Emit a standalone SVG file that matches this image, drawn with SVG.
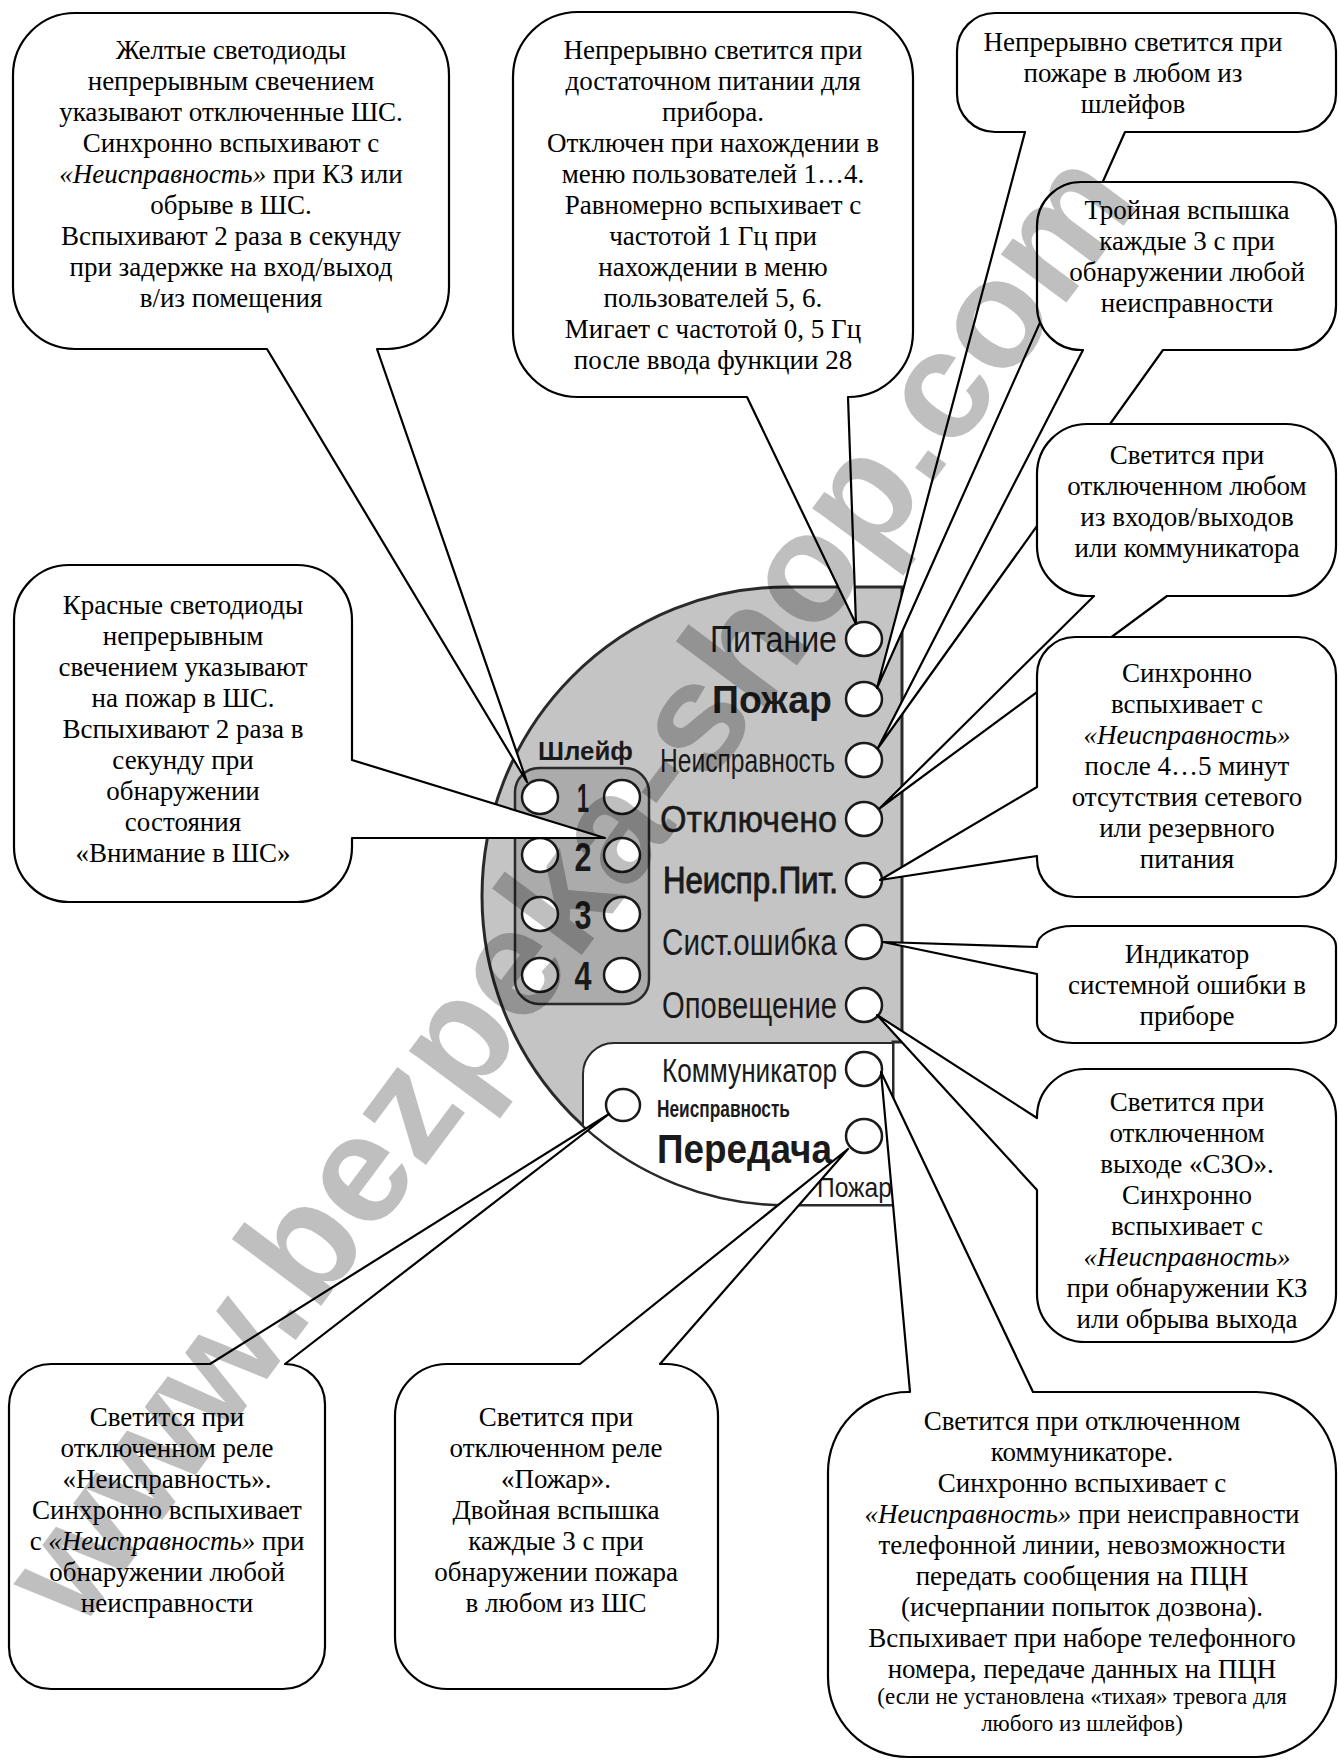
<svg xmlns="http://www.w3.org/2000/svg" width="1338" height="1760" viewBox="0 0 1338 1760">
<style>
.b{fill:#fff;stroke:#000;stroke-width:2.2;stroke-linejoin:round}
.t{font-family:"Liberation Serif","Times New Roman",serif;font-size:27px;fill:#000;text-anchor:middle}
.s{font-size:23px}
.i{font-style:italic}
.lbl{font-family:"Liberation Sans",Arial,sans-serif;fill:#1a1a1a}
.bd{font-weight:bold}
.led{fill:#fff;stroke:#1a1a1a;stroke-width:2.5}
</style>
<rect width="1338" height="1760" fill="#fff"/>
<g id="device">
<path d="M902,587 V1042 H893 V1205 H787 A305,309 0 0 1 787,587 Z" fill="#c4c4c4" stroke="#2a2a2a" stroke-width="3"/>
<path d="M614,1043 H893 V1205 H787 A305,309 0 0 1 583,1126 V1074 A31,31 0 0 1 614,1043 Z" fill="#fff" stroke="#2a2a2a" stroke-width="2"/>
<rect x="515" y="768" width="134" height="236" rx="24" fill="#ababab" stroke="#2a2a2a" stroke-width="2.5"/>
<text class="lbl bd" x="538" y="760" font-size="25" textLength="95" lengthAdjust="spacingAndGlyphs">Шлейф</text>
<text class="lbl bd" x="583" y="812" font-size="40" text-anchor="middle" textLength="12" lengthAdjust="spacingAndGlyphs">1</text>
<text class="lbl bd" x="583" y="871" font-size="40" text-anchor="middle" textLength="17" lengthAdjust="spacingAndGlyphs">2</text>
<text class="lbl bd" x="583" y="929" font-size="40" text-anchor="middle" textLength="17" lengthAdjust="spacingAndGlyphs">3</text>
<text class="lbl bd" x="583" y="990" font-size="40" text-anchor="middle" textLength="17" lengthAdjust="spacingAndGlyphs">4</text>
<ellipse class="led" cx="540" cy="797" rx="18" ry="17"/>
<ellipse class="led" cx="622" cy="797" rx="18" ry="17"/>
<ellipse class="led" cx="540" cy="855" rx="18" ry="17"/>
<ellipse class="led" cx="622" cy="855" rx="18" ry="17"/>
<ellipse class="led" cx="540" cy="914" rx="18" ry="17"/>
<ellipse class="led" cx="622" cy="914" rx="18" ry="17"/>
<ellipse class="led" cx="540" cy="975" rx="18" ry="17"/>
<ellipse class="led" cx="622" cy="975" rx="18" ry="17"/>
<text class="lbl" x="710" y="652" font-size="37" textLength="127" lengthAdjust="spacingAndGlyphs">Питание</text>
<text class="lbl bd" x="712" y="713" font-size="39" textLength="120" lengthAdjust="spacingAndGlyphs">Пожар</text>
<text class="lbl" x="660" y="772" font-size="34" textLength="175" lengthAdjust="spacingAndGlyphs">Неисправность</text>
<text class="lbl" x="660" y="832" font-size="37" textLength="177" lengthAdjust="spacingAndGlyphs" stroke="#1a1a1a" stroke-width="0.5">Отключено</text>
<text class="lbl" x="663" y="893" font-size="37" textLength="175" lengthAdjust="spacingAndGlyphs" stroke="#1a1a1a" stroke-width="1">Неиспр.Пит.</text>
<text class="lbl" x="662" y="955" font-size="36" textLength="175" lengthAdjust="spacingAndGlyphs">Сист.ошибка</text>
<text class="lbl" x="662" y="1018" font-size="36" textLength="175" lengthAdjust="spacingAndGlyphs">Оповещение</text>
<text class="lbl" x="662" y="1082" font-size="34" textLength="175" lengthAdjust="spacingAndGlyphs">Коммуникатор</text>
<text class="lbl bd" x="657" y="1117" font-size="23" textLength="133" lengthAdjust="spacingAndGlyphs">Неисправность</text>
<text class="lbl bd" x="657" y="1163" font-size="41" textLength="175" lengthAdjust="spacingAndGlyphs">Передача</text>
<text class="lbl" x="817" y="1197" font-size="28" textLength="75" lengthAdjust="spacingAndGlyphs">Пожар</text>
<ellipse class="led" cx="864" cy="639" rx="18" ry="17"/>
<ellipse class="led" cx="864" cy="699" rx="18" ry="17"/>
<ellipse class="led" cx="864" cy="760" rx="18" ry="17"/>
<ellipse class="led" cx="864" cy="819" rx="18" ry="17"/>
<ellipse class="led" cx="864" cy="880" rx="18" ry="17"/>
<ellipse class="led" cx="864" cy="942" rx="18" ry="17"/>
<ellipse class="led" cx="864" cy="1005" rx="18" ry="17"/>
<ellipse class="led" cx="864" cy="1069" rx="18" ry="17"/>
<ellipse class="led" cx="864" cy="1136" rx="18" ry="17"/>
<ellipse class="led" cx="623" cy="1105" rx="17" ry="16"/>
</g>
<g id="callouts">
<g id="c-shs-yellow">
<path class="b" d="M75,13 H387 A62,62 0 0 1 449,75 V287 A62,62 0 0 1 387,349 H377 L527,782 L267,349 H75 A62,62 0 0 1 13,287 V75 A62,62 0 0 1 75,13 Z"/>
<text class="t"><tspan x="231" y="59">Желтые светодиоды</tspan><tspan x="231" y="90">непрерывным свечением</tspan><tspan x="231" y="121">указывают отключенные ШС.</tspan><tspan x="231" y="152">Синхронно вспыхивают с</tspan><tspan x="231" y="183"><tspan class="i">«Неисправность»</tspan> при КЗ или</tspan><tspan x="231" y="214">обрыве в ШС.</tspan><tspan x="231" y="245">Вспыхивают 2 раза в секунду</tspan><tspan x="231" y="276">при задержке на вход/выход</tspan><tspan x="231" y="307">в/из помещения</tspan></text>
</g>
<g id="c-pitanie">
<path class="b" d="M578,12 H848 A65,65 0 0 1 913,77 V332 A65,65 0 0 1 848,397 L856,624 L747,397 H578 A65,65 0 0 1 513,332 V77 A65,65 0 0 1 578,12 Z"/>
<text class="t"><tspan x="713" y="59">Непрерывно светится при</tspan><tspan x="713" y="90">достаточном питании для</tspan><tspan x="713" y="121">прибора.</tspan><tspan x="713" y="152">Отключен при нахождении в</tspan><tspan x="713" y="183">меню пользователей 1…4.</tspan><tspan x="713" y="214">Равномерно вспыхивает с</tspan><tspan x="713" y="245">частотой 1 Гц при</tspan><tspan x="713" y="276">нахождении в меню</tspan><tspan x="713" y="307">пользователей 5, 6.</tspan><tspan x="713" y="338">Мигает с частотой 0, 5 Гц</tspan><tspan x="713" y="369">после ввода функции 28</tspan></text>
</g>
<g id="c-pozhar">
<path class="b" d="M995,13 H1298 A38,38 0 0 1 1336,51 V94 A38,38 0 0 1 1298,132 H1125 L877,688 L1025,132 H995 A38,38 0 0 1 957,94 V51 A38,38 0 0 1 995,13 Z"/>
<text class="t"><tspan x="1133" y="51">Непрерывно светится при</tspan><tspan x="1133" y="82">пожаре в любом из</tspan><tspan x="1133" y="113">шлейфов</tspan></text>
</g>
<g id="c-neispr">
<path class="b" d="M1081,182 H1292 A44,44 0 0 1 1336,226 V306 A44,44 0 0 1 1292,350 H1163 L878,748 L1083,350 H1081 A44,44 0 0 1 1037,306 V226 A44,44 0 0 1 1081,182 Z"/>
<text class="t"><tspan x="1187" y="219">Тройная вспышка</tspan><tspan x="1187" y="250">каждые 3 с при</tspan><tspan x="1187" y="281">обнаружении любой</tspan><tspan x="1187" y="312">неисправности</tspan></text>
</g>
<g id="c-otkl">
<path class="b" d="M1087,424 H1286 A50,50 0 0 1 1336,474 V546 A50,50 0 0 1 1286,596 H1167 L880,808 L1094,596 H1087 A50,50 0 0 1 1037,546 V474 A50,50 0 0 1 1087,424 Z"/>
<text class="t"><tspan x="1187" y="464">Светится при</tspan><tspan x="1187" y="495">отключенном любом</tspan><tspan x="1187" y="526">из входов/выходов</tspan><tspan x="1187" y="557">или коммуникатора</tspan></text>
</g>
<g id="c-neispr-pit">
<path class="b" d="M1075,637 H1298 A38,38 0 0 1 1336,675 V859 A38,38 0 0 1 1298,897 H1075 A38,38 0 0 1 1037,859 V856 L880,880 L1037,787 V675 A38,38 0 0 1 1075,637 Z"/>
<text class="t"><tspan x="1187" y="682">Синхронно</tspan><tspan x="1187" y="713">вспыхивает с</tspan><tspan x="1187" y="744" class="i">«Неисправность»</tspan><tspan x="1187" y="775">после 4…5 минут</tspan><tspan x="1187" y="806">отсутствия сетевого</tspan><tspan x="1187" y="837">или резервного</tspan><tspan x="1187" y="868">питания</tspan></text>
</g>
<g id="c-sist">
<path class="b" d="M1073,926 H1300 A36,20 0 0 1 1336,946 V1023 A36,20 0 0 1 1300,1043 H1073 A36,20 0 0 1 1037,1023 V974 L883,942 L1037,947 V946 A36,20 0 0 1 1073,926 Z"/>
<text class="t"><tspan x="1187" y="963">Индикатор</tspan><tspan x="1187" y="994">системной ошибки в</tspan><tspan x="1187" y="1025">приборе</tspan></text>
</g>
<g id="c-opov">
<path class="b" d="M1085,1069 H1288 A48,48 0 0 1 1336,1117 V1294 A48,48 0 0 1 1288,1342 H1085 A48,48 0 0 1 1037,1294 V1190 L877,1015 L1037,1118 V1117 A48,48 0 0 1 1085,1069 Z"/>
<text class="t"><tspan x="1187" y="1111">Светится при</tspan><tspan x="1187" y="1142">отключенном</tspan><tspan x="1187" y="1173">выходе «СЗО».</tspan><tspan x="1187" y="1204">Синхронно</tspan><tspan x="1187" y="1235">вспыхивает с</tspan><tspan x="1187" y="1266" class="i">«Неисправность»</tspan><tspan x="1187" y="1297">при обнаружении КЗ</tspan><tspan x="1187" y="1328">или обрыва выхода</tspan></text>
</g>
<g id="c-shs-red">
<path class="b" d="M69,565 H297 A55,55 0 0 1 352,620 V760 L605,838 L352,838 V847 A55,55 0 0 1 297,902 H69 A55,55 0 0 1 14,847 V620 A55,55 0 0 1 69,565 Z"/>
<text class="t"><tspan x="183" y="614">Красные светодиоды</tspan><tspan x="183" y="645">непрерывным</tspan><tspan x="183" y="676">свечением указывают</tspan><tspan x="183" y="707">на пожар в ШС.</tspan><tspan x="183" y="738">Вспыхивают 2 раза в</tspan><tspan x="183" y="769">секунду при</tspan><tspan x="183" y="800">обнаружении</tspan><tspan x="183" y="831">состояния</tspan><tspan x="183" y="862">«Внимание в ШС»</tspan></text>
</g>
<g id="c-rele-neispr">
<path class="b" d="M51,1364 H210 L609,1114 L285,1364 A40,40 0 0 1 325,1404 V1647 A42,42 0 0 1 283,1689 H51 A42,42 0 0 1 9,1647 V1406 A42,42 0 0 1 51,1364 Z"/>
<text class="t"><tspan x="167" y="1426">Светится при</tspan><tspan x="167" y="1457">отключенном реле</tspan><tspan x="167" y="1488">«Неисправность».</tspan><tspan x="167" y="1519">Синхронно вспыхивает</tspan><tspan x="167" y="1550">с <tspan class="i">«Неисправность»</tspan> при</tspan><tspan x="167" y="1581">обнаружении любой</tspan><tspan x="167" y="1612">неисправности</tspan></text>
</g>
<g id="c-rele-pozhar">
<path class="b" d="M447,1364 H580 L848,1149 L660,1364 H666 A52,52 0 0 1 718,1416 V1637 A52,52 0 0 1 666,1689 H447 A52,52 0 0 1 395,1637 V1416 A52,52 0 0 1 447,1364 Z"/>
<text class="t"><tspan x="556" y="1426">Светится при</tspan><tspan x="556" y="1457">отключенном реле</tspan><tspan x="556" y="1488">«Пожар».</tspan><tspan x="556" y="1519">Двойная вспышка</tspan><tspan x="556" y="1550">каждые 3 с при</tspan><tspan x="556" y="1581">обнаружении пожара</tspan><tspan x="556" y="1612">в любом из ШС</tspan></text>
</g>
<g id="c-komm">
<path class="b" d="M908,1392 H910 L881,1072 L1033,1392 H1256 A80,80 0 0 1 1336,1472 V1677 A80,80 0 0 1 1256,1757 H908 A80,80 0 0 1 828,1677 V1472 A80,80 0 0 1 908,1392 Z"/>
<text class="t"><tspan x="1082" y="1430">Светится при отключенном</tspan><tspan x="1082" y="1461">коммуникаторе.</tspan><tspan x="1082" y="1492">Синхронно вспыхивает с</tspan><tspan x="1082" y="1523"><tspan class="i">«Неисправность»</tspan> при неисправности</tspan><tspan x="1082" y="1554">телефонной линии, невозможности</tspan><tspan x="1082" y="1585">передать сообщения на ПЦН</tspan><tspan x="1082" y="1616">(исчерпании попыток дозвона).</tspan><tspan x="1082" y="1647">Вспыхивает при наборе телефонного</tspan><tspan x="1082" y="1678">номера, передаче данных на ПЦН</tspan><tspan x="1082" y="1704" class="s">(если не установлена «тихая» тревога для</tspan><tspan x="1082" y="1731" class="s">любого из шлейфов)</tspan></text>
</g>
</g>
<text id="watermark" x="0" y="0" dy="0.26em" transform="translate(578,893) rotate(-53.4)" text-anchor="middle" font-family="'Liberation Sans',Arial,sans-serif" font-weight="bold" font-size="154" fill="#000" fill-opacity="0.25">www.bezpeka-shop.com</text>
</svg>
